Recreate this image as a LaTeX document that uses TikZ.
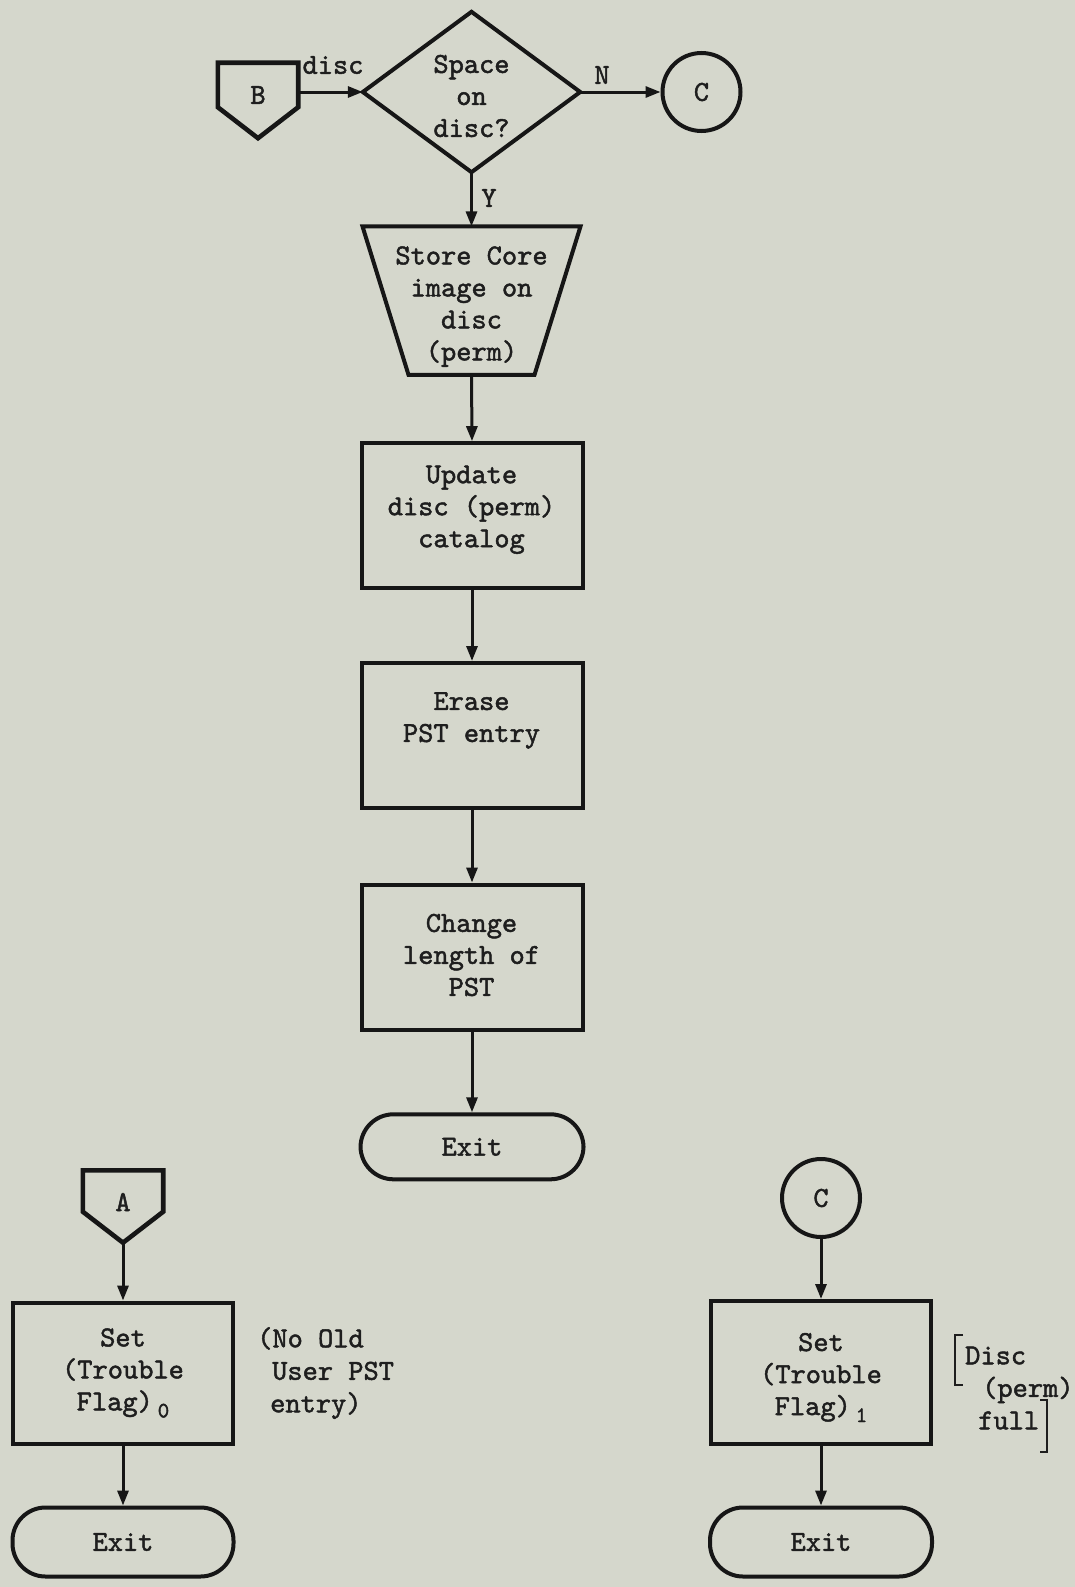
\documentclass[tikz,border=0pt]{standalone}
\usetikzlibrary{arrows.meta,calc}
\definecolor{paper}{RGB}{213,215,204}
\definecolor{ink}{RGB}{22,22,22}
\definecolor{txt}{RGB}{30,30,30}
\font\twf="[lmmono10-regular]:embolden=1.6" at 29pt
\font\twsub="[lmmono10-regular]:embolden=1.6" at 22pt
\begin{document}
\begin{tikzpicture}[x=1pt,y=-1pt,
  every node/.style={font=\fontsize{29}{32}\selectfont\twf, text=txt},
  shapeline/.style={draw=ink, line width=4pt},
  plain/.style={inner sep=0pt, align=center},
  flowbox/.style={shapeline, plain, minimum width=221pt, minimum height=145pt},
  termbox/.style={shapeline, plain, rounded corners=33pt, minimum width=221pt, minimum height=67pt},
  connector/.style={shapeline, circle, plain, minimum size=78pt},
  conn/.style={draw=ink, line width=3pt, -{Triangle[length=15pt,width=11pt]}},
  lbl/.style={inner sep=0pt},
  boxtext/.style={inner sep=0pt, align=center},
  note/.style={inner sep=0pt, anchor=west, align=left, font=\fontsize{29}{32.5}\selectfont\twf}
]
\useasboundingbox (0,0) rectangle (1075,1587);
\fill[paper] (0,0) rectangle (1075,1587);

% ---- top: entry B, decision ----
\node (B) [plain, minimum width=80pt, minimum height=44pt] at (258,85) {};
\draw[shapeline, line width=4.6pt] (B.north west) -- (B.north east) -- (B.south east) -- ($(B.south)+(0,31)$) -- (B.south west) -- cycle;
\node (Bt) [lbl] at (258,95) {B};

\node (D) [plain, minimum width=217pt, minimum height=160pt] at (471.5,92) {};
\draw[shapeline] (D.west) -- (D.north) -- (D.east) -- (D.south) -- cycle;
\node (Dt) [boxtext] at (471.5,96) {Space\\on\\disc?};

\node (C1) [connector] at (701.5,92) {C};

\draw[conn] (B.east |- D.west) -- (D.west);
\draw[conn] (D.east) -- (C1.west);
\node (ldisc) [lbl] at (333,65) {disc};
\node (lN) [lbl] at (602,75) {N};
\node (lY) [lbl] at (489,198) {Y};

% ---- trapezoid ----
\node (T) [plain, minimum width=217.6pt, minimum height=148pt] at (471.5,300.6) {};
\draw[shapeline] (T.north west) -- (T.north east) -- ($(T.south east)+(-46,0)$) -- ($(T.south west)+(46,0)$) -- cycle;
\node (Tt) [boxtext] at (471.5,306.6) {Store Core\\image on\\disc\\(perm)};
\draw[conn] (D.south) -- (T.north);

% ---- main column ----
\node (U) [flowbox] at (472,515.7) {};
\node (Ut) [boxtext] at (471.5,509.7) {Update\\disc (perm)\\catalog};
\node (E) [flowbox] at (472,735.5) {};
\node (Et) [boxtext] at (471.5,720.4) {Erase\\PST entry};
\node (L) [flowbox] at (472,957) {};
\node (Lt) [boxtext] at (471.5,955) {Change\\length of\\PST};
\node (X1) [termbox, minimum width=223pt, minimum height=65pt] at (472,1146.8) {Exit};
\draw[conn] (T.south) -- (U.north);
\draw[conn] (U.south) -- (E.north);
\draw[conn] (E.south) -- (L.north);
\draw[conn] (L.south) -- (X1.north);

% ---- bottom left: entry A ----
\node (A) [plain, minimum width=80pt, minimum height=41pt] at (123,1191) {};
\draw[shapeline, line width=4.6pt] (A.north west) -- (A.north east) -- (A.south east) -- ($(A.south)+(0,31)$) coordinate (Ap) -- (A.south west) -- cycle;
\node (At) [lbl] at (123,1202) {A};
\node (SA) [flowbox, minimum width=220pt, minimum height=141pt] at (123,1373) {Set\\(Trouble\\Flag)\,\raisebox{-7pt}{\twsub 0}};
\node (X2) [termbox, minimum height=69pt] at (123,1542) {Exit};
\draw[conn] (Ap) -- (SA.north);
\draw[conn] (SA.south) -- (X2.north);
\node (nA) [note] at (257,1373) {(No Old\\\hspace*{15pt}User PST\\\hspace*{13pt}entry)};

% ---- bottom right: connector C ----
\node (C2) [connector] at (821,1198) {C};
\node (SC) [flowbox, minimum width=220pt, minimum height=143pt] at (821,1372.5) {};
\node (SCt) [boxtext] at (821,1377.5) {Set\\(Trouble\\Flag)\,\raisebox{-7pt}{\twsub 1}};
\node (X3) [termbox, minimum width=222pt, minimum height=69pt] at (821,1542) {Exit};
\draw[conn] (C2.south) -- (SC.north);
\draw[conn] (SC.south) -- (X3.north);
\node (nC) [note] at (965,1388) {Disc\\\hspace*{17pt}(perm)\\\hspace*{13pt}full};
\draw[draw=txt, line width=2pt] (963,1335) -- (955,1335) -- (955,1385) -- (963,1385);
\draw[draw=txt, line width=2pt] (1040,1400) -- (1047,1400) -- (1047,1452) -- (1040,1452);
\end{tikzpicture}
\end{document}
